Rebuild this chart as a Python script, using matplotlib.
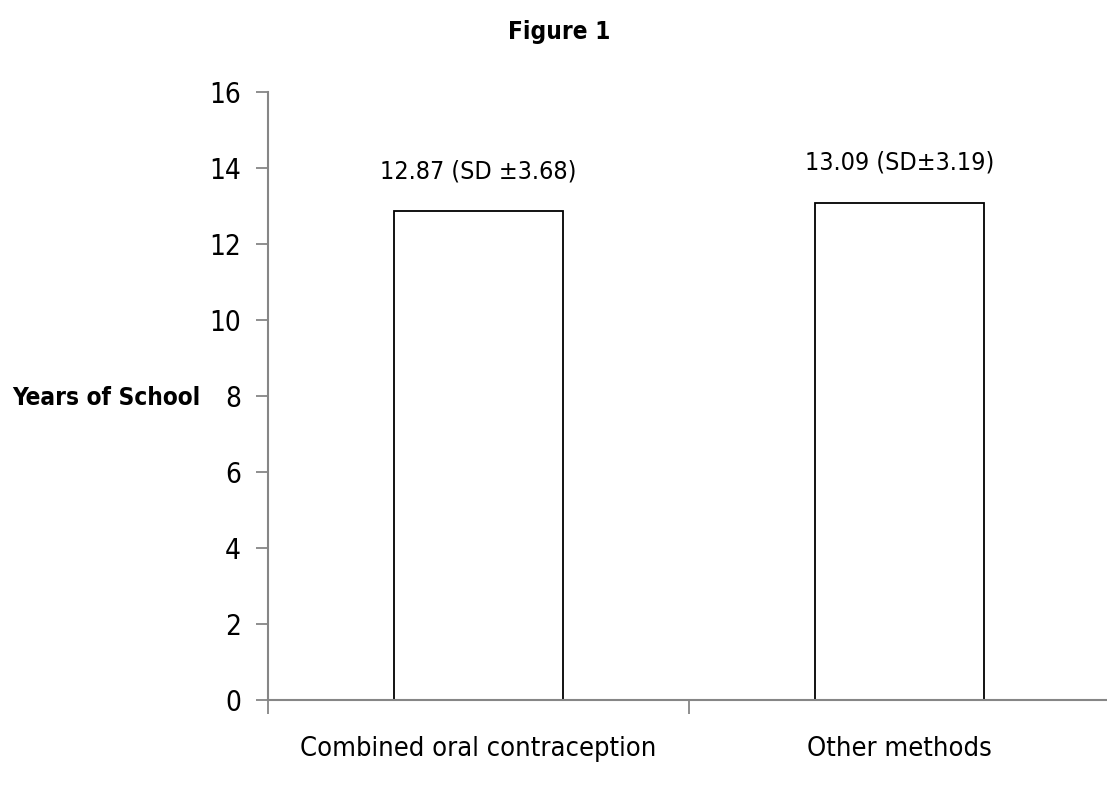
import matplotlib
matplotlib.use("Agg")
import matplotlib.pyplot as plt

# data
categories = ['Combined oral contraception', 'Other methods']
years = [12.87, 13.09]
bar_labels = ['12.87 (SD \u00b13.68)', '13.09 (SD\u00b13.19)']
yticks = [0, 2, 4, 6, 8, 10, 12, 14, 16]

plt.rcParams['font.family'] = ['DejaVu Sans']
plt.rcParams['font.stretch'] = 'condensed'

fig = plt.figure(figsize=(11.07, 7.85), dpi=100)
ax = fig.add_axes([267.5 / 1107, 1 - 700 / 785, 843 / 1107, 608 / 785])

x = range(len(categories))
ax.bar(x, years, width=0.4, color='white', edgecolor='black', linewidth=1.3)

# value labels above the bars
for xi, v, lab in zip(x, years, bar_labels):
    ax.text(xi, v + 1.05, lab, ha='center', va='center', fontsize=18)

ax.set_xlim(-0.5, 1.5)
ax.set_ylim(0, 16)
ax.set_yticks(yticks)
ax.set_yticklabels([str(t) for t in yticks], fontsize=20)

# category labels between boundary ticks
ax.set_xticks([-0.5, 0.5, 1.5])
ax.set_xticklabels([])
ax.set_xticks(list(x), minor=True)
ax.set_xticklabels(categories, minor=True, fontsize=19.5)
ax.tick_params(axis='x', which='minor', length=0, pad=26)
ax.tick_params(axis='x', which='major', direction='out', length=10, width=1.3, color='#868686')
ax.tick_params(axis='y', direction='out', length=9, width=1.3, color='#868686', pad=10)

for side in ['top', 'right']:
    ax.spines[side].set_visible(False)
for side in ['left', 'bottom']:
    ax.spines[side].set_color('#868686')
    ax.spines[side].set_linewidth(1.5)

fig.text(559 / 1107, 1 - 32 / 785, 'Figure 1', ha='center', va='center',
         fontsize=17.5, fontweight='bold')
fig.text(200 / 1107, 1 - 398 / 785, 'Years of School', ha='right', va='center',
         fontsize=17.5, fontweight='bold')

fig.savefig('out.png', dpi=100)
